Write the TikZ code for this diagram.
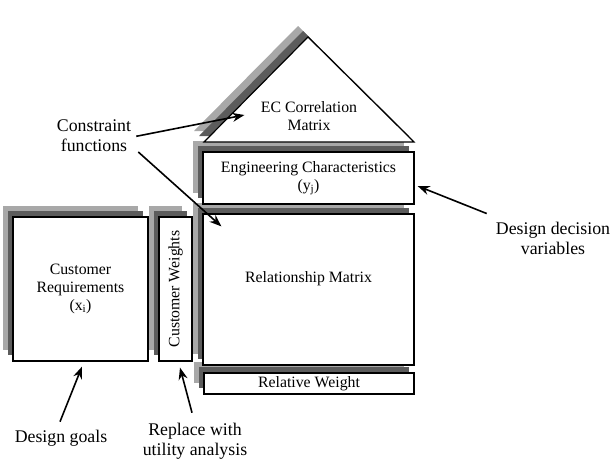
\documentclass[tikz,border=0pt]{standalone}
\usepackage{fontspec}
\setmainfont{Liberation Serif}
\usetikzlibrary{shadows,arrows.meta}
\definecolor{lightshade}{gray}{0.66}
\definecolor{darkshade}{gray}{0.36}
\tikzset{
  twoshadow/.style={general shadow={fill=lightshade, shadow xshift=-10pt, shadow yshift=11pt},
                    general shadow={fill=darkshade, shadow xshift=-5pt, shadow yshift=6pt}},
  box/.style={twoshadow, draw, line width=1.2pt, fill=white, inner sep=0pt, align=center},
  note/.style={align=center, inner sep=2pt, font=\fontsize{17.8}{20}\selectfont},
  arrowline/.style={line width=1.6pt}
}
\begin{document}
\begin{tikzpicture}[x=1pt, y=-1pt, >={Stealth[length=12pt,width=9pt]},
    font=\fontsize{15.8}{18}\selectfont]
    \useasboundingbox (0,0) rectangle (612,458);
    % house, from the bottom up
    \node[box, minimum width=210pt, minimum height=21pt] (rw) at (309,383.5) {Relative Weight};
    \node[box, minimum width=211pt, minimum height=151pt] (rm) at (308.5,289.5) {};
    \node (rmtext) at ([yshift=11pt]rm.center) {Relationship Matrix};
    \node[box, minimum width=211pt, minimum height=52pt]
        (ec) at (308.5,178) {Engineering Characteristics\\(y\textsubscript{j})};
    \draw[twoshadow, line width=1.2pt, fill=white] (204,142) -- (308,37) -- (414,142) -- cycle;
    \node[align=center] (ecm) at (309,116) {EC Correlation\\Matrix};
    % customer side
    \node[box, minimum width=135pt, minimum height=144pt]
        (cr) at (80.5,289) {Customer\\Requirements\\(x\textsubscript{i})};
    \node[box, minimum width=33pt, minimum height=144pt]
        (cw) at (175.5,289) {\rotatebox{90}{Customer Weights}};
    % notes
    \node[note] (cf) at (94,135.3) {Constraint\\functions};
    \node[note] (dd) at (553,238) {Design decision\\variables};
    \node[note] (dg) at (61,438) {Design goals};
    \node[note] (ua) at (195,441) {Replace with\\utility analysis};
    \draw[->, arrowline] ([shift={(3,1)}]cf.east) -- ([shift={(-13,-1)}]ecm.west);
    \draw[->, arrowline] ([shift={(5,-1.5)}]cf.south east) -- ([shift={(19,13)}]rm.north west);
    \draw[->, arrowline] ([shift={(-7,-6)}]dd.north west) -- ([shift={(3,8)}]ec.east);
    \draw[->, arrowline] ([shift={(-1,-6)}]dg.north) -- ([shift={(1.5,5)}]cr.south);
    \draw[->, arrowline] ([shift={(-3,-8)}]ua.north) -- ([shift={(4.5,6)}]cw.south);
\end{tikzpicture}
\end{document}
